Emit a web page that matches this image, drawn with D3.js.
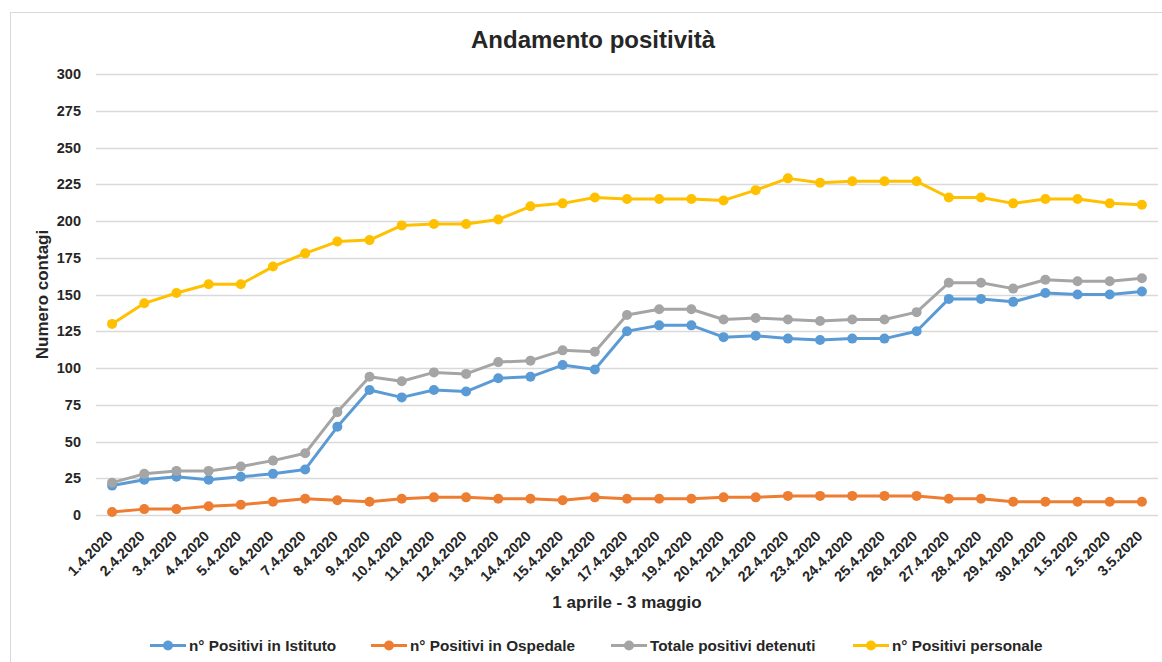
<!DOCTYPE html>
<html>
<head>
<meta charset="utf-8">
<script src="https://cdn.jsdelivr.net/npm/d3@7"></script>
<style>
  body { margin: 0; background: #fff; }
  svg { font-family: "Liberation Sans", Arial, sans-serif; }
</style>
</head>
<body>
<svg id="chart"></svg>
<script>
// Andamento positività, 1 aprile - 3 maggio

var dates = ["1.4.2020", "2.4.2020", "3.4.2020", "4.4.2020", "5.4.2020", "6.4.2020", "7.4.2020",
  "8.4.2020", "9.4.2020", "10.4.2020", "11.4.2020", "12.4.2020", "13.4.2020", "14.4.2020",
  "15.4.2020", "16.4.2020", "17.4.2020", "18.4.2020", "19.4.2020", "20.4.2020", "21.4.2020",
  "22.4.2020", "23.4.2020", "24.4.2020", "25.4.2020", "26.4.2020", "27.4.2020", "28.4.2020",
  "29.4.2020", "30.4.2020", "1.5.2020", "2.5.2020", "3.5.2020"];

var istituto = [20, 24, 26, 24, 26, 28, 31, 60, 85, 80, 85, 84, 93, 94, 102, 99, 125,
  129, 129, 121, 122, 120, 119, 120, 120, 125, 147, 147, 145, 151, 150, 150, 152];

var ospedale = [2, 4, 4, 6, 7, 9, 11, 10, 9, 11, 12, 12, 11, 11, 10, 12, 11,
  11, 11, 12, 12, 13, 13, 13, 13, 13, 11, 11, 9, 9, 9, 9, 9];

var detenuti = [22, 28, 30, 30, 33, 37, 42, 70, 94, 91, 97, 96, 104, 105, 112, 111, 136,
  140, 140, 133, 134, 133, 132, 133, 133, 138, 158, 158, 154, 160, 159, 159, 161];

var personale = [130, 144, 151, 157, 157, 169, 178, 186, 187, 197, 198, 198, 201, 210, 212, 216, 215,
  215, 215, 214, 221, 229, 226, 227, 227, 227, 216, 216, 212, 215, 215, 212, 211];

var yTicks = [0, 25, 50, 75, 100, 125, 150, 175, 200, 225, 250, 275, 300];

var series = [
  { name: "n° Positivi in Istituto", values: istituto, color: "#5B9BD5" },
  { name: "n° Positivi in Ospedale", values: ospedale, color: "#ED7D31" },
  { name: "Totale positivi detenuti", values: detenuti, color: "#A5A5A5" },
  { name: "n° Positivi personale", values: personale, color: "#FFC000" }
];

var width = 1162, height = 662;
var margin = { top: 74, right: 4, bottom: 147, left: 96 };
var textColor = "#262626";
var fontFam = "Liberation Sans, Arial, sans-serif";

var svg = d3.select("#chart")
    .attr("width", width)
    .attr("height", height);

// chart frame
svg.append("rect")
    .attr("x", 10.5).attr("y", 12.5)
    .attr("width", width + 10).attr("height", height + 10)
    .attr("fill", "#fff")
    .attr("stroke", "#d9d9d9");

var x = d3.scalePoint()
    .domain(dates)
    .range([margin.left, width - margin.right])
    .padding(0.5);

var y = d3.scaleLinear()
    .domain([0, 300])
    .range([height - margin.bottom, margin.top]);

// gridlines
svg.append("g")
  .selectAll("line")
  .data(yTicks)
  .enter().append("line")
    .attr("x1", margin.left)
    .attr("x2", width - margin.right)
    .attr("y1", function(d) { return Math.round(y(d)) + 0.5; })
    .attr("y2", function(d) { return Math.round(y(d)) + 0.5; })
    .attr("stroke", "#d9d9d9")
    .attr("stroke-width", 1.3);

// y axis labels
var yAxis = svg.append("g")
    .attr("transform", "translate(" + (margin.left - 15) + ",0)")
    .call(d3.axisLeft(y).tickValues(yTicks).tickSize(0).tickPadding(0));
yAxis.select(".domain").remove();
yAxis.selectAll("text")
    .attr("fill", textColor)
    .attr("font-size", 14.5)
    .attr("font-weight", "bold")
    .attr("font-family", fontFam);

// x axis labels (rotated)
var xAxis = svg.append("g")
    .attr("transform", "translate(0," + y(0) + ")")
    .call(d3.axisBottom(x).tickSize(0).tickPadding(0));
xAxis.select(".domain").remove();
xAxis.selectAll("text")
    .attr("fill", textColor)
    .attr("font-size", 14.5)
    .attr("font-weight", "bold")
    .attr("font-family", fontFam)
    .attr("text-anchor", "end")
    .attr("y", 0)
    .attr("dy", 0)
    .attr("transform", "translate(1,22) rotate(-45)");

// titles
svg.append("text")
    .attr("x", 593).attr("y", 48)
    .attr("text-anchor", "middle")
    .attr("font-size", 24)
    .attr("font-weight", "bold")
    .attr("fill", textColor)
    .text("Andamento positività");

svg.append("text")
    .attr("transform", "translate(48," + ((y(0) + y(300)) / 2) + ") rotate(-90)")
    .attr("text-anchor", "middle")
    .attr("font-size", 17)
    .attr("font-weight", "bold")
    .attr("fill", textColor)
    .text("Numero contagi");

svg.append("text")
    .attr("x", (margin.left + width - margin.right) / 2)
    .attr("y", 608)
    .attr("text-anchor", "middle")
    .attr("font-size", 17)
    .attr("font-weight", "bold")
    .attr("fill", textColor)
    .text("1 aprile - 3 maggio");

// lines + markers
var line = d3.line()
    .x(function(d, i) { return x(dates[i]); })
    .y(function(d) { return y(d); });

series.forEach(function(s) {
  var g = svg.append("g").attr("class", "series");
  g.append("path")
      .datum(s.values)
      .attr("fill", "none")
      .attr("stroke", s.color)
      .attr("stroke-width", 3)
      .attr("stroke-linejoin", "round")
      .attr("d", line);
  g.selectAll("circle")
    .data(s.values)
    .enter().append("circle")
      .attr("cx", function(d, i) { return x(dates[i]); })
      .attr("cy", function(d) { return y(d); })
      .attr("r", 5)
      .attr("fill", s.color);
});

// legend
var legendX = [150, 371, 611, 853];
var legend = svg.append("g")
  .selectAll("g")
  .data(series)
  .enter().append("g")
    .attr("transform", function(d, i) { return "translate(" + legendX[i] + ",645.5)"; });

legend.append("line")
    .attr("x1", 0).attr("x2", 36)
    .attr("stroke", function(d) { return d.color; })
    .attr("stroke-width", 3);
legend.append("circle")
    .attr("cx", 18).attr("r", 5)
    .attr("fill", function(d) { return d.color; });
legend.append("text")
    .attr("x", 39).attr("dy", "0.35em")
    .attr("font-size", 15.3)
    .attr("font-weight", "bold")
    .attr("fill", textColor)
    .text(function(d) { return d.name; });
</script>
</body>
</html>
